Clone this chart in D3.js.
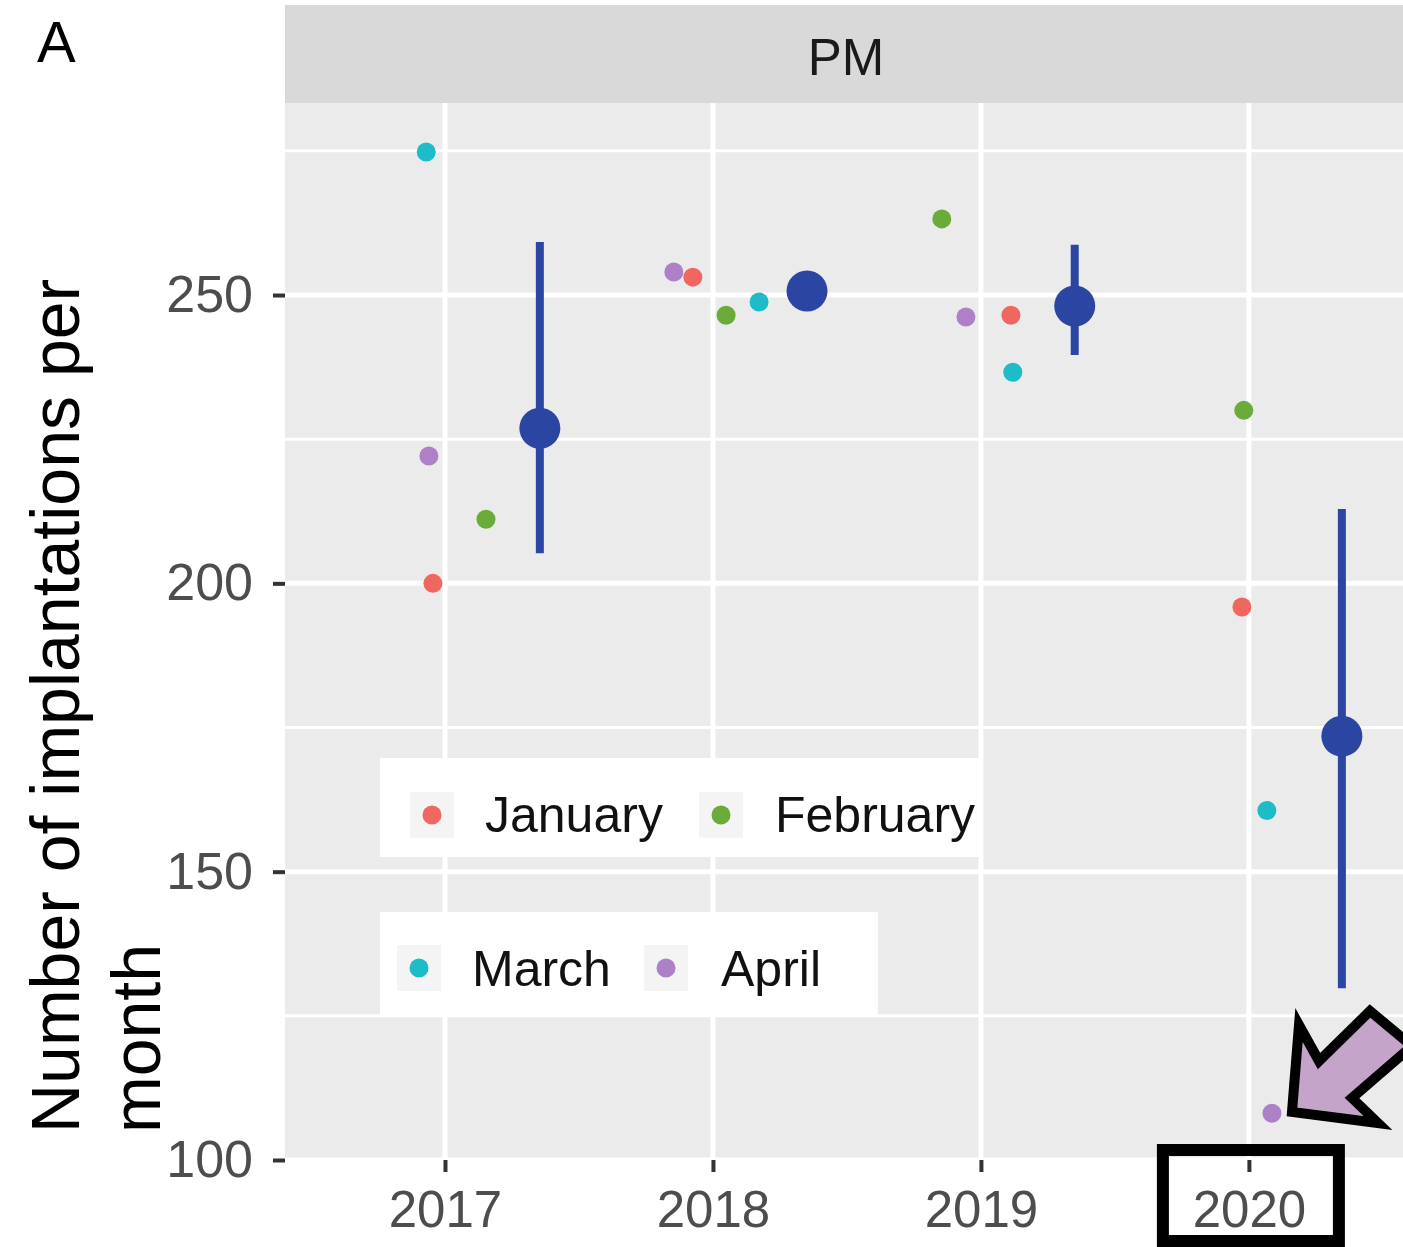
<!DOCTYPE html>
<html>
<head>
<meta charset="utf-8">
<script src="https://cdn.jsdelivr.net/npm/d3@7"></script>
<style>
  html, body { margin: 0; padding: 0; background: #ffffff; }
  svg { display: block; font-family: "Liberation Sans", Arial, Helvetica, sans-serif; }
</style>
</head>
<body>
<svg id="chart" width="1403" height="1247"></svg>
<script>
// ---------- data ----------
const months = ["January", "February", "March", "April"];
const monthColors = ["#f0675f", "#6aab3a", "#1ebcc8", "#ad80c8"];
const xTickYears = [2017, 2018, 2019, 2020];
const yTickValues = [100, 150, 200, 250];
const yMinorValues = [125, 175, 225, 275];

// plotted (dodged) x position of each monthly point, in years
const januaryX  = [2016.955, 2017.925, 2019.112, 2019.974];
const januaryY  = [200.0, 253.1, 246.5, 195.9];
const februaryX = [2017.153, 2018.049, 2018.854, 2019.981];
const februaryY = [211.1, 246.5, 263.2, 230.0];
const marchX    = [2016.930, 2018.172, 2019.119, 2020.067];
const marchY    = [274.8, 248.8, 236.6, 160.6];
const aprilX    = [2016.940, 2017.854, 2018.944, 2020.086];
const aprilY    = [222.1, 254.0, 246.2, 108.1];

// yearly mean with interval
const meanX     = [2017.354, 2018.351, 2019.350, 2020.347];
const meanY     = [226.9, 250.7, 248.1, 173.5];
const meanLow   = [205.2, 249.2, 239.6, 129.8];
const meanHigh  = [259.2, 252.2, 258.7, 212.9];

const facetLabel = "PM";
const panelTag = "A";
const yTitleLines = ["Number of implantations per", "month"];
const highlightYear = 2020;

// ---------- layout ----------
const svg = d3.select("#chart");
const P = { left: 285, right: 1407, top: 103, bottom: 1160, stripTop: 5 };

const x = d3.scaleLinear().domain([2016.403, 2020.59]).range([P.left, P.right]);
const y = d3.scaleLinear().domain([100, 283.3]).range([P.bottom, P.top]);

// strip
svg.append("rect").attr("x", P.left).attr("y", P.stripTop)
  .attr("width", P.right - P.left).attr("height", P.top - P.stripTop)
  .attr("fill", "#d9d9d9");
svg.append("text").attr("x", (P.left + P.right) / 2).attr("y", 75)
  .attr("text-anchor", "middle").attr("font-size", 51).attr("fill", "#1a1a1a")
  .text(facetLabel);

// panel
svg.append("rect").attr("x", P.left).attr("y", P.top)
  .attr("width", P.right - P.left).attr("height", P.bottom - P.top)
  .attr("fill", "#ebebeb");

const grid = svg.append("g");
grid.selectAll("line.minor").data(yMinorValues).join("line")
  .attr("x1", P.left).attr("x2", P.right)
  .attr("y1", d => y(d)).attr("y2", d => y(d))
  .attr("stroke", "#ffffff").attr("stroke-width", 3);
grid.selectAll("line.majorY").data(yTickValues).join("line")
  .attr("x1", P.left).attr("x2", P.right)
  .attr("y1", d => y(d)).attr("y2", d => y(d))
  .attr("stroke", "#ffffff").attr("stroke-width", 5);
grid.selectAll("line.majorX").data(xTickYears).join("line")
  .attr("x1", d => x(d)).attr("x2", d => x(d))
  .attr("y1", P.top).attr("y2", P.bottom)
  .attr("stroke", "#ffffff").attr("stroke-width", 5);

// axes
const yAxis = d3.axisLeft(y).tickValues(yTickValues).tickSize(12).tickPadding(20);
const gy = svg.append("g").attr("transform", `translate(${P.left},0)`).call(yAxis);
gy.select(".domain").remove();
gy.selectAll(".tick line").attr("stroke", "#333333").attr("stroke-width", 4);
gy.selectAll(".tick text").attr("font-size", 52).attr("fill", "#4d4d4d")
  .attr("font-family", "Liberation Sans, Arial, sans-serif");

const xAxis = d3.axisBottom(x).tickValues(xTickYears).tickFormat(d3.format("d")).tickSize(12).tickPadding(19);
const gx = svg.append("g").attr("transform", `translate(0,${P.bottom})`).call(xAxis);
gx.select(".domain").remove();
gx.selectAll(".tick line").attr("stroke", "#333333").attr("stroke-width", 4);
gx.selectAll(".tick text").attr("font-size", 51).attr("fill", "#4d4d4d")
  .attr("font-family", "Liberation Sans, Arial, sans-serif");

// y title
const yTitle = svg.append("text")
  .attr("transform", "translate(79,1133) rotate(-90)")
  .attr("font-size", 68).attr("fill", "#000000");
yTitle.selectAll("tspan").data(yTitleLines).join("tspan")
  .attr("x", 0).attr("dy", (d, i) => i === 0 ? 0 : 81)
  .text(d => d);

// panel tag
svg.append("text").attr("x", 37).attr("y", 62).attr("font-size", 58)
  .attr("fill", "#000000").text(panelTag);

// ---------- marks ----------
const monthSeries = [
  { name: months[0], xs: januaryX,  ys: januaryY,  color: monthColors[0] },
  { name: months[1], xs: februaryX, ys: februaryY, color: monthColors[1] },
  { name: months[2], xs: marchX,    ys: marchY,    color: monthColors[2] },
  { name: months[3], xs: aprilX,    ys: aprilY,    color: monthColors[3] }
];
const pts = svg.append("g");
monthSeries.forEach(s => {
  pts.selectAll(null).data(s.xs.map((v, i) => [v, s.ys[i]])).join("circle")
    .attr("cx", d => x(d[0])).attr("cy", d => y(d[1])).attr("r", 9.5)
    .attr("fill", s.color);
});

const means = meanX.map((v, i) => ({ x: v, y: meanY[i], lo: meanLow[i], hi: meanHigh[i] }));
const mg = svg.append("g");
mg.selectAll("line").data(means).join("line")
  .attr("x1", d => x(d.x)).attr("x2", d => x(d.x))
  .attr("y1", d => y(d.lo)).attr("y2", d => y(d.hi))
  .attr("stroke", "#2b45a3").attr("stroke-width", 8);
mg.selectAll("circle").data(means).join("circle")
  .attr("cx", d => x(d.x)).attr("cy", d => y(d.y)).attr("r", 20.5)
  .attr("fill", "#2b45a3");

// ---------- legend ----------
const legendRows = [
  { box: [380, 758, 600, 99], items: [
      { m: 0, key: 432, text: 485 }, { m: 1, key: 721, text: 775 } ], cy: 815, base: 832 },
  { box: [380, 912, 498, 105], items: [
      { m: 2, key: 419, text: 472 }, { m: 3, key: 666, text: 721 } ], cy: 968, base: 986 }
];
const lg = svg.append("g");
legendRows.forEach(r => {
  lg.append("rect").attr("x", r.box[0]).attr("y", r.box[1])
    .attr("width", r.box[2]).attr("height", r.box[3]).attr("fill", "#ffffff");
  r.items.forEach(it => {
    lg.append("rect").attr("x", it.key - 22).attr("y", r.cy - 23)
      .attr("width", 44).attr("height", 46).attr("fill", "#f4f4f4");
    lg.append("circle").attr("cx", it.key).attr("cy", r.cy).attr("r", 9.5)
      .attr("fill", monthColors[it.m]);
    lg.append("text").attr("x", it.text).attr("y", r.base)
      .attr("font-size", 50).attr("fill", "#111111").text(months[it.m]);
  });
});

// ---------- annotations ----------
const arrowPts = [[1292,1112],[1299,1025],[1319,1061],[1370,1011],[1412,1046],[1352,1098],[1378,1123]];
svg.append("polygon").attr("points", arrowPts.map(p => p.join(",")).join(" "))
  .attr("fill", "#c4a5c9").attr("stroke", "#000000").attr("stroke-width", 10)
  .attr("stroke-linejoin", "miter");

const hx = x(highlightYear);
svg.append("rect").attr("x", hx - 86).attr("y", 1150)
  .attr("width", 176).attr("height", 91)
  .attr("fill", "none").attr("stroke", "#000000").attr("stroke-width", 12);
</script>
</body>
</html>
